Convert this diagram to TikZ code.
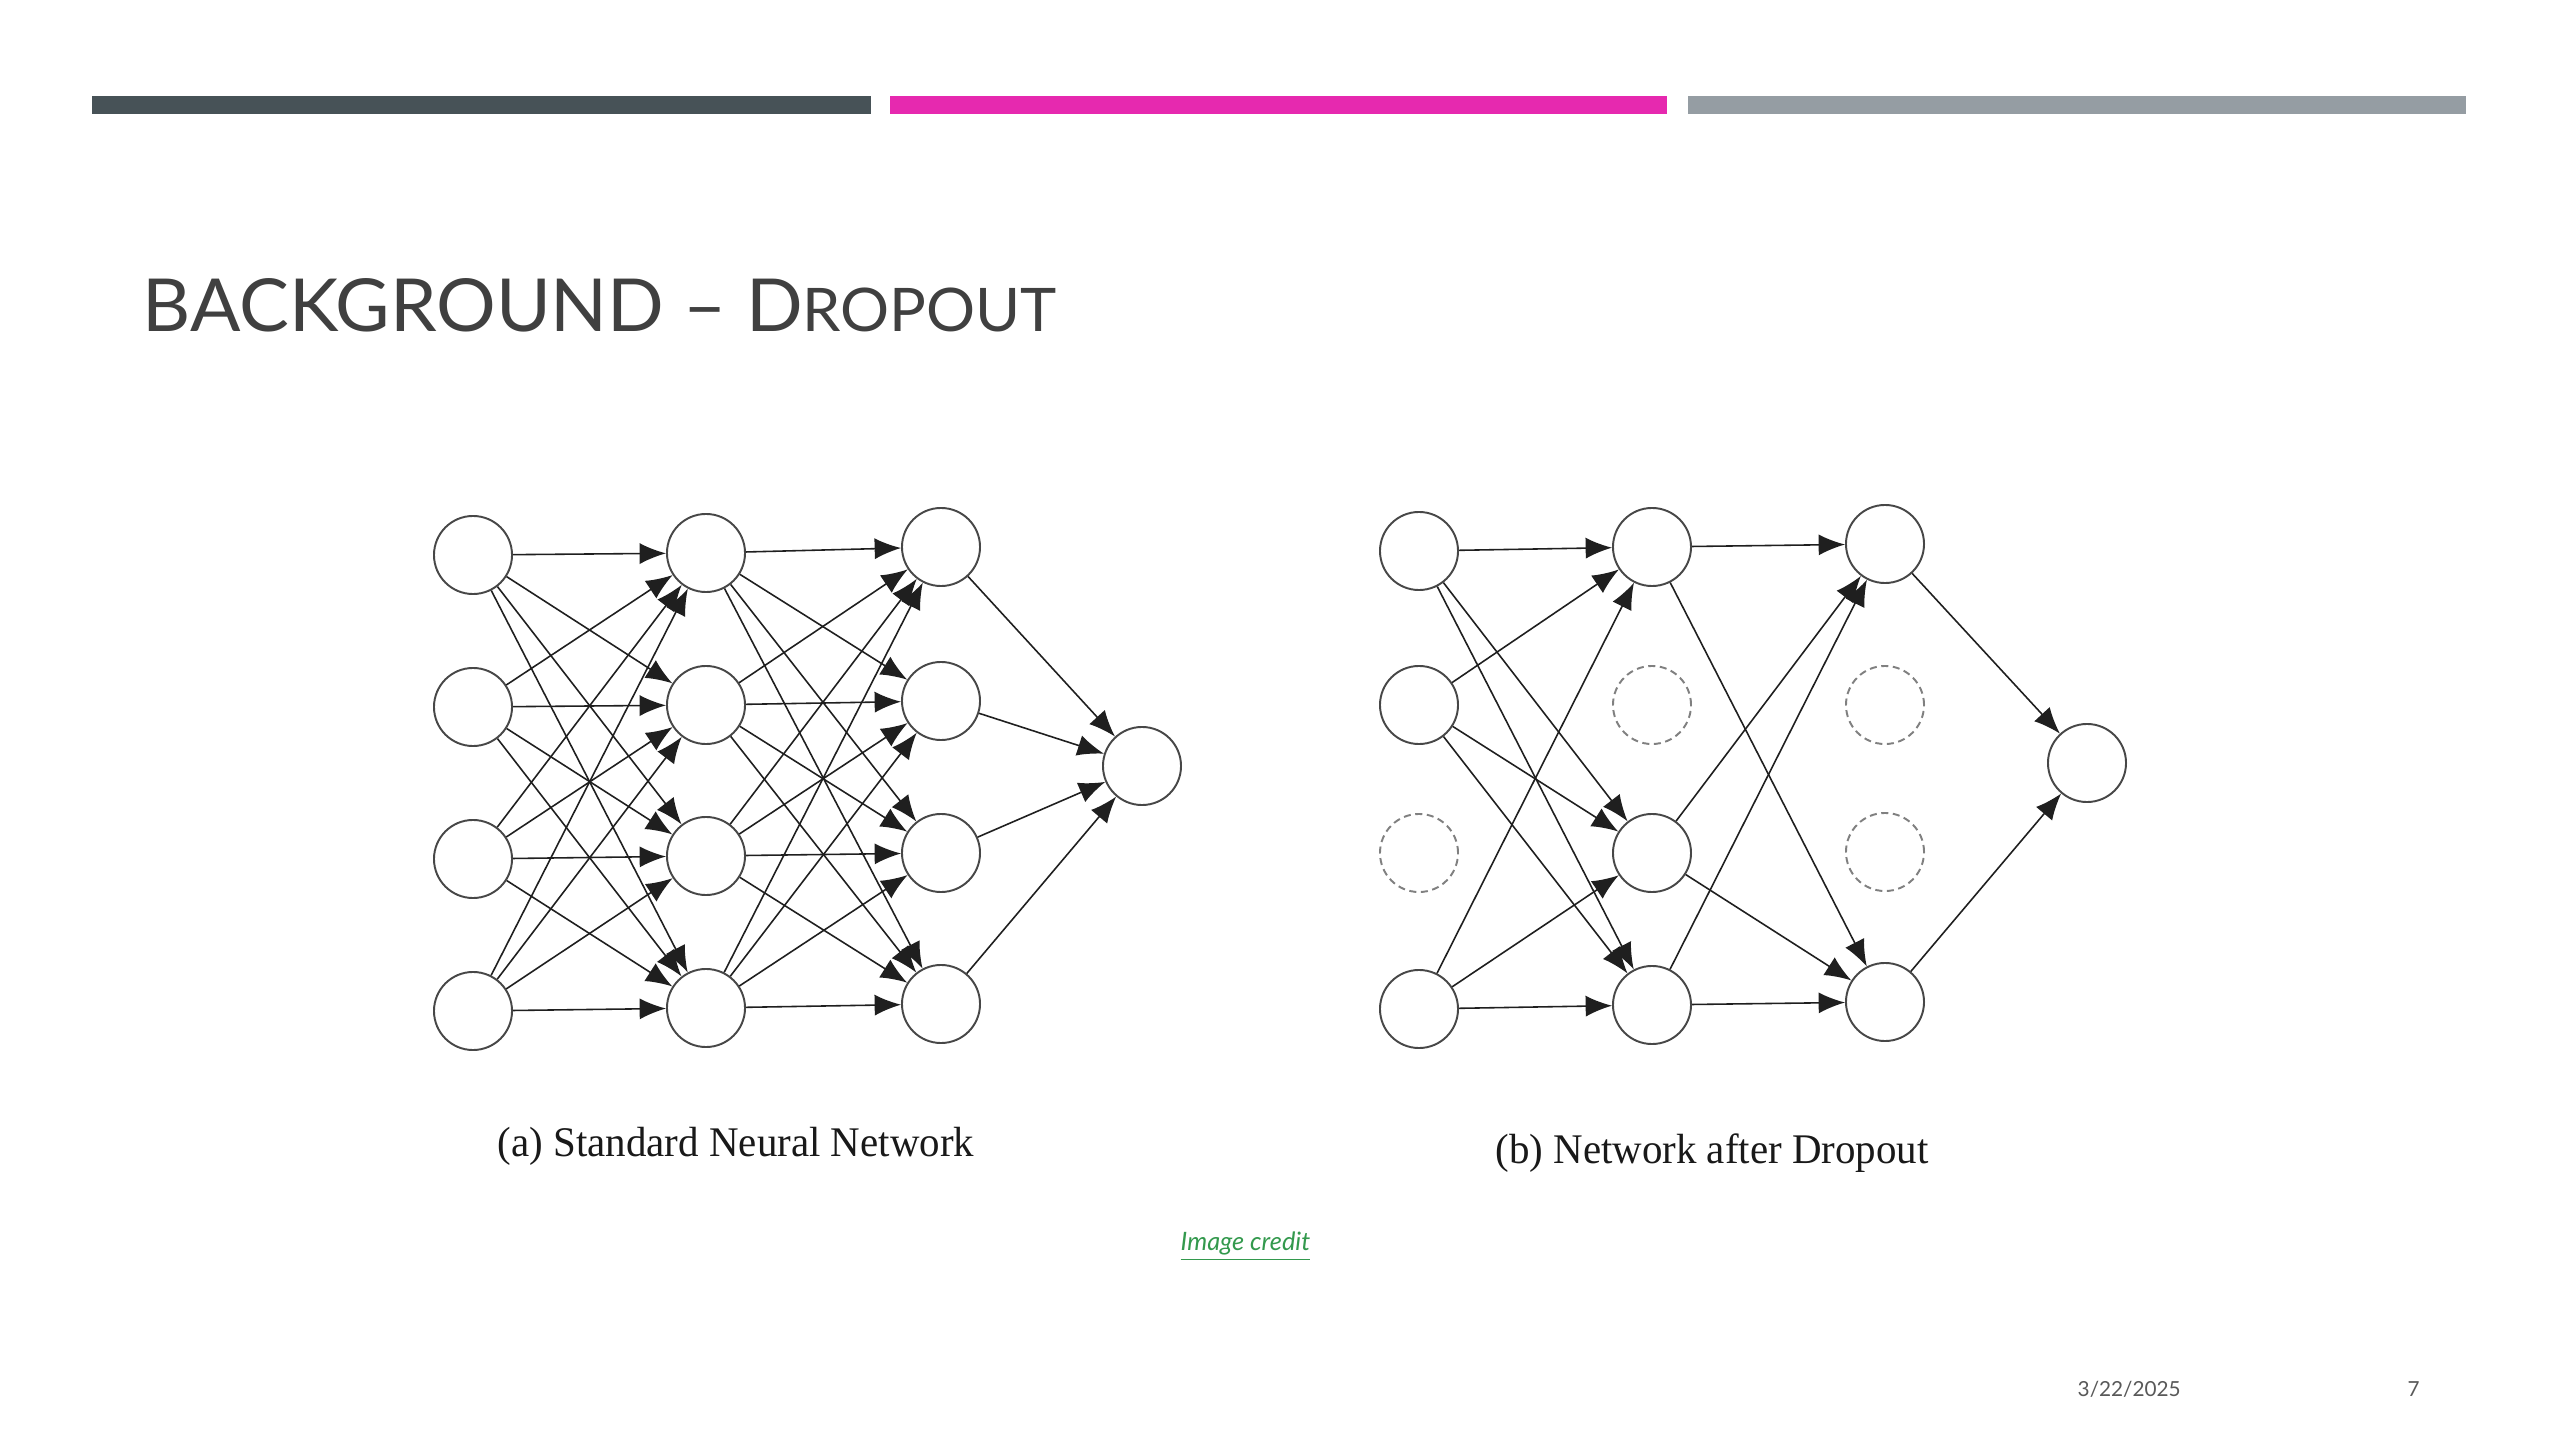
\documentclass[tikz,border=0pt]{standalone}
\usepackage{fontspec}
\usepackage{xcolor}
\usetikzlibrary{arrows.meta}
\setmainfont{Liberation Serif}
\newfontfamily\gillfont{Lato}
\definecolor{barDark}{HTML}{475257}
\definecolor{barPink}{HTML}{E629AF}
\definecolor{barGrey}{HTML}{959DA3}
\definecolor{titleGrey}{HTML}{404040}
\definecolor{creditGreen}{HTML}{33994D}

\begin{document}
\begin{tikzpicture}[x=0.01cm,y=-0.01cm,
  neuron/.style={circle,draw=black!72,line width=0.55pt,minimum size=0.78cm,inner sep=0pt},
  dropped/.style={neuron,draw=black!50,dash pattern=on 2pt off 1.3pt},
  wire/.style={draw=black!88,line width=0.45pt,-{Latex[length=7.5pt,width=6pt]}},
  caption/.style={anchor=base,inner sep=0pt,text=black!90,font=\fontsize{12pt}{14pt}\selectfont,xscale=0.97},
  footer/.style={anchor=base west,inner sep=0pt,text=black!65,font=\gillfont\fontsize{5.9pt}{7pt}\selectfont}]
 \useasboundingbox[fill=white] (0,0) rectangle (2560,1440);
 \fill[barDark] (92,96) rectangle (871,114);
 \fill[barPink] (890,96) rectangle (1667,114);
 \fill[barGrey] (1688,96) rectangle (2466,114);
 \node[anchor=base west,inner sep=0pt,text=titleGrey,xscale=1.02,font=\gillfont\fontsize{20.8pt}{24pt}\selectfont] (title) at (142,332)
  {BACKGROUND – D{\fontsize{17.1pt}{20pt}\selectfont ROPOUT}};

 \foreach \i/\y in {1/555,2/707,3/859,4/1011} \node[neuron] (ai\i) at (473,\y) {};
 \foreach \i/\y in {1/553,2/705,3/856,4/1008} \node[neuron] (ah\i) at (706,\y) {};
 \foreach \i/\y in {1/547,2/701,3/853,4/1004} \node[neuron] (ag\i) at (941,\y) {};
 \node[neuron] (ao) at (1142,766) {};
 \foreach \i in {1,...,4} \foreach \j in {1,...,4} {
  \draw[wire] (ai\i) -- (ah\j);
  \draw[wire] (ah\i) -- (ag\j);
 }
 \foreach \i in {1,...,4} \draw[wire] (ag\i) -- (ao);

 \node[neuron] (bi1) at (1419,551) {};
 \node[neuron] (bi2) at (1419,705) {};
 \node[dropped] (bi3) at (1419,853) {};
 \node[neuron] (bi4) at (1419,1009) {};
 \node[neuron] (bh1) at (1652,547) {};
 \node[dropped] (bh2) at (1652,705) {};
 \node[neuron] (bh3) at (1652,853) {};
 \node[neuron] (bh4) at (1652,1005) {};
 \node[neuron] (bg1) at (1885,544) {};
 \node[dropped] (bg2) at (1885,705) {};
 \node[dropped] (bg3) at (1885,852) {};
 \node[neuron] (bg4) at (1885,1002) {};
 \node[neuron] (bo) at (2087,763) {};
 \foreach \s/\t in {bi1/bh1,bi1/bh3,bi1/bh4,bi2/bh1,bi2/bh3,bi2/bh4,bi4/bh1,bi4/bh3,bi4/bh4,
   bh1/bg1,bh1/bg4,bh3/bg1,bh3/bg4,bh4/bg1,bh4/bg4,bg1/bo,bg4/bo}
  \draw[wire] (\s) -- (\t);

 \node[caption] (capa) at (736,1156) {(a) Standard Neural Network};
 \node[caption] (capb) at (1712,1163) {(b) Network after Dropout};
 \node[anchor=base west,inner sep=0pt,text=creditGreen,font=\gillfont\itshape\fontsize{7.2pt}{8pt}\selectfont] (credit) at (1180,1250) {\underline{Image credit}};
 \node[footer] (date) at (2077,1396) {3/22/2025};
 \node[footer] (page) at (2407,1396) {7};
\end{tikzpicture}
\end{document}
